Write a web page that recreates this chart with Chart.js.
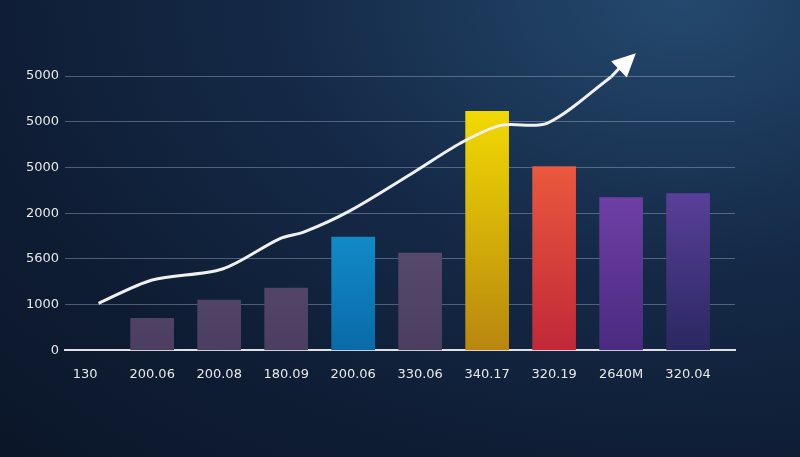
<!DOCTYPE html>
<html><head><meta charset="utf-8">
<script src="https://cdn.jsdelivr.net/npm/chart.js@4"></script>
<style>
html,body{margin:0;padding:0;}
body{width:800px;height:457px;background:radial-gradient(ellipse at 85% 0%,#24496e 0%,#152a48 40%,#0e1c33 75%,#0b1628 100%);}
#w{position:absolute;left:0;top:0;width:800px;height:457px;}
</style></head><body>
<div id="w"><canvas id="c"></canvas></div>
<script>
const categories=["130","200.06","200.08","180.09","200.06","330.06","340.17","320.19","2640M","320.04"];
const yTickLabels=["0","1000","5600","2000","5000","5000","5000"];
const barValues=[null,0.7,1.1,1.36,2.48,2.13,5.23,4.02,3.34,3.43];
const lineX=[0.2,1.0,2.05,2.9,3.27,3.95,4.9,5.6,6.2,6.9,7.85];
const lineY=[1.03,1.54,1.78,2.44,2.59,3.05,3.89,4.53,4.92,4.97,5.98];
const arrowTip=[8.22,6.5];
const barColors=[null,["#6d5c80","#4b3e60"],["#6d5c80","#4b3e60"],["#6d5c80","#4b3e60"],["#1cb8f5","#0a6aa8"],["#6d5c80","#4b3e60"],["#f9e600","#b8860f"],["#ff7040","#c02838"],["#8a50c4","#4a2a80"],["#7c50c4","#2a2860"]];

const ctx=document.getElementById('c');
function grad(c,i){const ch=c.chart,a=ch.chartArea;if(!a||!barColors[i])return '#555';
 const g=ch.ctx.createLinearGradient(0,a.top,0,a.bottom);g.addColorStop(0,barColors[i][0]);g.addColorStop(1,barColors[i][1]);return g;}
const arrowPlugin={id:'arrow',afterDatasetsDraw(ch){
 const xs=ch.scales.x,ys=ch.scales.y,c=ch.ctx;
 const n=lineX.length-1;
 const x0=xs.getPixelForValue(lineX[n]),y0=ys.getPixelForValue(lineY[n]);
 const x1=xs.getPixelForValue(arrowTip[0]),y1=ys.getPixelForValue(arrowTip[1]);
 c.save();c.strokeStyle='#f2f2f2';c.lineWidth=3;c.beginPath();c.moveTo(x0,y0);c.lineTo(x1-8,y1+6);c.stroke();
 const ang=Math.atan2(y1-y0,x1-x0);c.fillStyle='#ffffff';c.beginPath();c.moveTo(x1,y1);
 c.lineTo(x1-26*Math.cos(ang-0.45),y1-26*Math.sin(ang-0.45));
 c.lineTo(x1-26*Math.cos(ang+0.45),y1-26*Math.sin(ang+0.45));c.closePath();c.fill();c.restore();}};
new Chart(ctx,{
 data:{datasets:[
  {type:'line',data:lineX.map((x,i)=>({x:x,y:lineY[i]})),borderColor:'#f0f0f0',borderWidth:3,pointRadius:0,tension:0.3,clip:false,order:0},
  {type:'bar',data:barValues.map((v,i)=>({x:i,y:v})),backgroundColor:c=>grad(c,c.dataIndex),barThickness:43,order:1}
 ]},
 options:{responsive:true,maintainAspectRatio:false,animation:false,
  layout:{padding:{left:20,right:65,top:76,bottom:67}},
  plugins:{legend:{display:false},tooltip:{enabled:false}},
  scales:{
   x:{type:'linear',offset:false,min:-0.3,max:9.7,afterBuildTicks:s=>{s.ticks=categories.map((c,i)=>({value:i}));},
     ticks:{color:'#e8e8e8',font:{family:'DejaVu Sans',size:13},callback:(v)=>categories[v],padding:8,autoSkip:false,maxRotation:0},
     grid:{display:false},border:{color:'#e0e0e0',width:2}},
   y:{min:0,max:6,ticks:{stepSize:1,color:'#e8e8e8',font:{family:'DejaVu Sans',size:13},callback:v=>yTickLabels[v],padding:6},
     grid:{color:'rgba(200,210,230,0.35)',drawTicks:false},border:{display:false}}
  }},
 plugins:[arrowPlugin]
});
</script></body></html>
